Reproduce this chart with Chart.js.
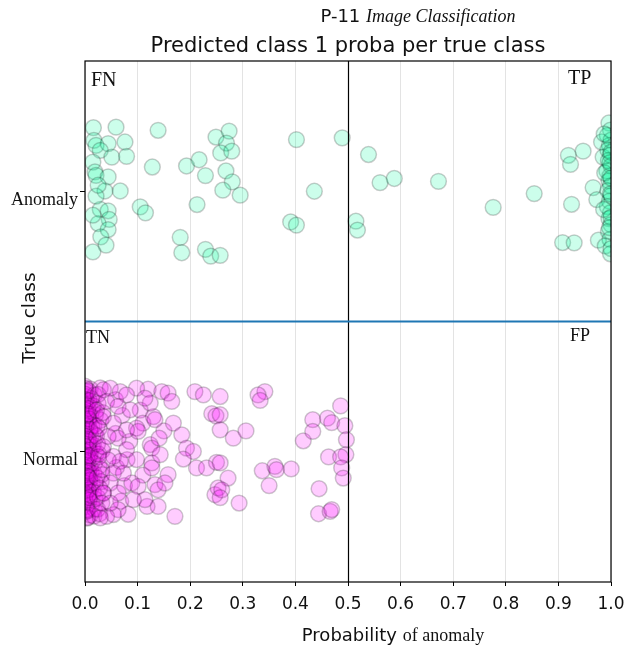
<!DOCTYPE html>
<html>
<head>
<meta charset="utf-8">
<script src="https://cdn.jsdelivr.net/npm/chart.js@4"></script>
<style>
  html, body { margin: 0; padding: 0; background: #fff; }
  canvas { display: block; }
</style>
</head>
<body>
<canvas id="probaChart" width="638" height="648"></canvas>
<script>
/* ── DATA ───────────────────────────────────────────────────── */
const xTickLabels = ['0.0','0.1','0.2','0.3','0.4','0.5','0.6','0.7','0.8','0.9','1.0'];
const classLabels = ['Normal', 'Anomaly'];   // y = 0, y = 1
const threshold = 0.5;

// true class = Anomaly (y = 1 + jitter)
const anomalyProba = [
  0.016,0.059,0.139,0.017,0.021,0.044,0.076,0.029,0.051,0.079,0.015,0.019,0.021,0.044,0.128,
  0.193,0.217,0.229,0.249,0.274,0.269,0.258,0.279,0.268,0.280,0.262,0.295,0.038,0.067,0.029,
  0.044,0.046,0.025,0.044,0.030,0.040,0.015,0.105,0.115,0.213,0.181,0.184,0.229,0.239,0.257,
  0.402,0.436,0.391,0.402,0.489,0.021,0.025,0.015,
  0.539,0.561,0.588,0.672,0.515,0.518,0.776,0.854,0.919,0.923,0.947,0.925,0.908,0.930,0.966,
  0.973,0.976,0.982,0.985,
  0.996,0.999,0.993,1.000,0.997,0.994,0.999,0.995,1.000,0.992,0.998,0.996,0.999,0.994,1.000,
  0.997,0.993,0.999,0.996,1.000,0.995,0.998,0.988,0.986,0.989,0.987,
  1.000,0.998,1.000,0.999,1.000,0.997,1.000,0.999
];
const anomalyY = [
  1.244,1.246,1.234,1.195,1.176,1.183,1.189,1.157,1.131,1.134,1.112,1.074,1.061,1.055,1.093,
  1.097,1.121,1.060,1.208,1.231,1.185,1.147,1.154,1.078,1.036,1.004,0.985,1.001,1.001,0.930,
  0.925,0.892,0.876,0.853,0.825,0.793,0.767,0.940,0.917,0.949,0.823,0.764,0.777,0.751,0.754,
  1.198,1.000,0.882,0.870,1.205,0.981,1.023,0.908,
  1.141,1.033,1.049,1.038,0.885,0.851,0.938,0.991,1.138,1.103,1.154,0.950,0.803,0.802,1.014,
  0.968,0.812,1.189,1.131,
  1.262,1.235,1.214,1.196,1.176,1.158,1.139,1.118,1.097,1.078,1.059,1.040,1.021,1.002,0.983,
  0.962,0.941,0.918,0.895,0.872,0.846,0.815,1.070,0.930,0.790,1.220,
  1.150,1.110,1.050,0.990,0.900,0.860,0.780,0.760
];

// true class = Normal (y = 0 + jitter)
const normalProba = [
  // dense column near 0
  0.000,0.003,0.001,0.005,0.000,0.002,0.006,0.001,0.004,0.000,0.003,0.007,0.001,0.005,0.000,
  0.002,0.006,0.001,0.004,0.000,0.003,0.005,0.001,0.002,0.000,0.004,
  0.010,0.012,0.009,0.014,0.011,0.008,0.013,0.010,0.012,0.009,0.014,0.011,0.008,0.013,0.010,
  0.012,0.009,0.014,0.011,0.008,0.013,0.010,
  0.018,0.016,0.020,0.017,0.019,0.016,0.021,0.018,0.017,0.020,0.016,0.019,0.018,0.017,
  0.001,0.000,0.002,0.000,0.001,0.003,0.000,0.002,0.001,0.000,0.002,0.001,0.000,0.003,0.001,
  0.000,0.002,0.001,0.000,0.002,0.001,0.000,0.003,
  0.006,0.008,0.005,0.007,0.009,0.006,0.008,0.005,0.007,0.009,0.006,0.008,0.005,0.007,0.009,
  0.006,0.008,0.005,
  0.025,0.030,0.022,0.033,0.027,0.031,0.024,0.029,0.034,0.026,0.032,0.023,0.028,0.035,
  // spread
  0.025,0.022,0.027,0.024,0.026,0.023,0.028,0.024,0.058,0.071,0.058,0.085,0.060,0.080,0.075,
  0.068,0.082,0.105,0.110,0.098,0.110,0.118,0.150,0.120,
  0.098,0.146,0.158,0.165,0.209,0.225,0.241,0.249,0.168,0.184,0.193,0.206,0.187,0.212,0.231,
  0.250,0.158,0.098,0.101,0.124,0.127,0.130,0.133,0.124,0.114,0.127,0.127,0.143,0.141,0.063,
  0.079,0.054,0.067,0.089,0.101,0.133,0.139,0.152,0.247,0.253,0.139,0.171,0.114,0.092,0.063,
  0.054,0.041,0.029,0.035,0.048,0.067,0.079,0.041,0.063,0.086,0.035,0.054,0.079,0.044,0.035,
  0.044,0.032,0.054,0.073,0.048,0.035,0.063,0.032,0.048,
  0.257,0.257,0.257,0.282,0.306,0.342,0.329,0.333,0.415,0.433,0.433,0.461,0.469,0.486,0.494,
  0.497,0.496,0.463,0.486,0.488,0.491,0.337,0.361,0.364,0.392,0.350,0.257,0.272,0.260,0.257,
  0.293,0.445,0.444,0.466,0.469
];
const normalY = [
  0.252,0.231,0.212,0.190,0.171,0.150,0.128,0.110,0.088,0.071,0.049,0.030,0.009,-0.012,-0.031,
  -0.052,-0.070,-0.091,-0.112,-0.130,-0.151,-0.172,-0.190,-0.211,-0.232,-0.255,
  0.241,0.205,0.182,0.160,0.139,0.118,0.097,0.079,0.058,0.039,0.018,-0.002,-0.022,-0.041,-0.062,
  -0.081,-0.101,-0.122,-0.141,-0.162,-0.201,-0.243,
  0.218,0.176,0.141,0.102,0.065,0.025,-0.008,-0.045,-0.083,-0.118,-0.155,-0.181,-0.220,-0.247,
  0.243,0.221,0.200,0.181,0.160,0.139,0.119,0.099,0.080,0.060,0.040,0.020,0.000,-0.021,-0.041,
  -0.060,-0.080,-0.101,-0.121,-0.140,-0.161,-0.181,-0.222,
  0.235,0.196,0.166,0.126,0.086,0.046,0.006,-0.034,-0.074,-0.110,-0.146,-0.186,-0.226,0.145,-0.015,
  -0.096,-0.176,-0.252,
  0.185,0.121,0.060,0.005,-0.055,-0.115,-0.175,0.245,0.150,-0.008,-0.088,0.098,-0.238,-0.160,
  0.220,0.160,0.090,0.030,-0.020,-0.100,-0.140,-0.220,0.200,0.140,0.070,0.040,-0.060,-0.030,-0.130,
  -0.190,-0.240,0.160,-0.090,-0.030,0.110,-0.210,0.080,0.240,
  0.244,0.231,0.225,0.193,0.231,0.218,0.146,0.138,0.110,0.065,0.014,0.001,-0.028,-0.062,-0.062,
  -0.041,-0.088,0.091,0.078,0.027,0.014,0.135,0.123,0.187,0.206,-0.043,-0.062,-0.011,0.052,0.052,
  0.008,-0.018,-0.037,-0.120,-0.133,-0.126,-0.146,-0.120,-0.165,-0.139,-0.210,-0.248,-0.184,-0.184,-0.222,
  -0.241,-0.248,-0.254,0.238,0.244,0.231,0.218,0.193,0.174,0.161,0.135,0.110,0.084,0.059,0.020,
  -0.031,-0.069,-0.082,-0.082,-0.120,-0.158,-0.158,-0.197,-0.197,
  0.212,0.142,0.084,0.052,0.080,0.231,0.218,0.197,0.042,0.123,0.078,0.129,0.112,0.176,0.100,
  0.046,-0.011,-0.020,-0.020,-0.062,-0.101,-0.073,-0.056,-0.069,-0.066,-0.130,-0.043,-0.101,-0.146,-0.176,
  -0.197,-0.142,-0.238,-0.229,-0.222
];

/* ── HELPERS ────────────────────────────────────────────────── */
const SANS  = '"DejaVu Sans", sans-serif';
const SERIF = '"Liberation Serif", "Times New Roman", serif';

function toPoints(xs, ys) {
  return xs.map((x, i) => ({ x: x, y: ys[i] }));
}

// draws a run of [text, font] pieces on one baseline
function drawRuns(ctx, runs, x, y, align) {
  let total = 0;
  runs.forEach(r => { ctx.font = r[1]; total += ctx.measureText(r[0]).width; });
  let cx = align === 'center' ? x - total / 2 : x;
  ctx.textAlign = 'left';
  runs.forEach(r => {
    ctx.font = r[1];
    ctx.fillText(r[0], cx, y);
    cx += ctx.measureText(r[0]).width;
  });
}

/* ── DECOR PLUGIN ───────────────────────────────────────────── */
const decorPlugin = {
  id: 'decor',
  afterDatasetsDraw(chart) {
    const { ctx, chartArea: a, scales: { x, y } } = chart;
    ctx.save();
    // threshold line
    const tx = Math.round(x.getPixelForValue(threshold)) + 0.5;
    ctx.strokeStyle = '#000';
    ctx.lineWidth = 1.2;
    ctx.beginPath(); ctx.moveTo(tx, a.top); ctx.lineTo(tx, a.bottom); ctx.stroke();
    // class separator
    const sy = y.getPixelForValue(0.5);
    ctx.strokeStyle = '#1f77b4';
    ctx.lineWidth = 2;
    ctx.beginPath(); ctx.moveTo(a.left, sy); ctx.lineTo(a.right, sy); ctx.stroke();
    // frame
    ctx.strokeStyle = '#000';
    ctx.lineWidth = 1.2;
    ctx.strokeRect(a.left, a.top, a.right - a.left, a.bottom - a.top);
    ctx.restore();
  },
  afterDraw(chart) {
    const { ctx, chartArea: a } = chart;
    ctx.save();
    ctx.fillStyle = '#111';
    ctx.textBaseline = 'alphabetic';

    // suptitle + title
    drawRuns(ctx, [['P-11 ', '18px ' + SANS], ['Image Classification', 'italic 18px ' + SERIF]], 418, 22, 'center');
    ctx.font = '21px ' + SANS;
    ctx.textAlign = 'center';
    ctx.fillText('Predicted class 1 proba per true class', (a.left + a.right) / 2, 52);

    // quadrant labels
    ctx.textAlign = 'left';
    ctx.font = '20px ' + SERIF;
    ctx.fillText('FN', 91, 86);
    ctx.fillText('TP', 568, 84);
    ctx.font = '18px ' + SERIF;
    ctx.fillText('TN', 86, 343);
    ctx.fillText('FP', 570, 341);

    // axis titles
    drawRuns(ctx, [['Probability ', '18px ' + SANS], ['of anomaly', '18px ' + SERIF]], 393, 641, 'center');
    ctx.translate(35, 318);
    ctx.rotate(-Math.PI / 2);
    ctx.font = '18.5px ' + SANS;
    ctx.textAlign = 'center';
    ctx.fillText('True class', 0, 0);
    ctx.restore();
  }
};

/* ── CHART ──────────────────────────────────────────────────── */
const pointStyle = {
  pointRadius: 7.9,
  borderWidth: 1.5,
  borderColor: 'rgba(0,0,0,0.2)',
  clip: 0,
};

new Chart(document.getElementById('probaChart'), {
  type: 'scatter',
  data: {
    datasets: [
      {
        label: 'Normal',
        data: toPoints(normalProba, normalY),
        backgroundColor: 'rgba(255,0,255,0.2)',
        ...pointStyle,
      },
      {
        label: 'Anomaly',
        data: toPoints(anomalyProba, anomalyY),
        backgroundColor: 'rgba(0,250,154,0.2)',
        ...pointStyle,
      },
    ],
  },
  options: {
    responsive: false,
    devicePixelRatio: 1,
    animation: false,
    events: [],
    layout: { padding: { left: 0, top: 61, right: 27, bottom: 0 } },
    plugins: {
      legend: { display: false },
      tooltip: { enabled: false },
    },
    scales: {
      x: {
        type: 'linear',
        min: 0,
        max: 1,
        afterBuildTicks: axis => { axis.ticks = xTickLabels.map(t => ({ value: parseFloat(t) })); },
        afterFit: scale => { scale.height = 66; },
        ticks: {
          color: '#111',
          font: { family: SANS, size: 17 },
          padding: 8,
          maxRotation: 0,
          autoSkip: false,
          callback: (v, i) => xTickLabels[i],
        },
        grid: { color: '#e3e3e3', lineWidth: 1, tickColor: '#000', tickLength: 4 },
        border: { display: false },
      },
      y: {
        type: 'linear',
        min: -0.5,
        max: 1.5,
        afterBuildTicks: axis => { axis.ticks = classLabels.map((c, i) => ({ value: i })); },
        afterFit: scale => { scale.width = 85; },
        ticks: {
          color: '#111',
          font: { family: SERIF, size: 18 },
          padding: 2,
          labelOffset: 9,
          autoSkip: false,
          callback: (v, i) => classLabels[i],
        },
        grid: { drawOnChartArea: false, tickColor: '#000', tickLength: 5 },
        border: { display: false },
      },
    },
  },
  plugins: [decorPlugin],
});
</script>
</body>
</html>
